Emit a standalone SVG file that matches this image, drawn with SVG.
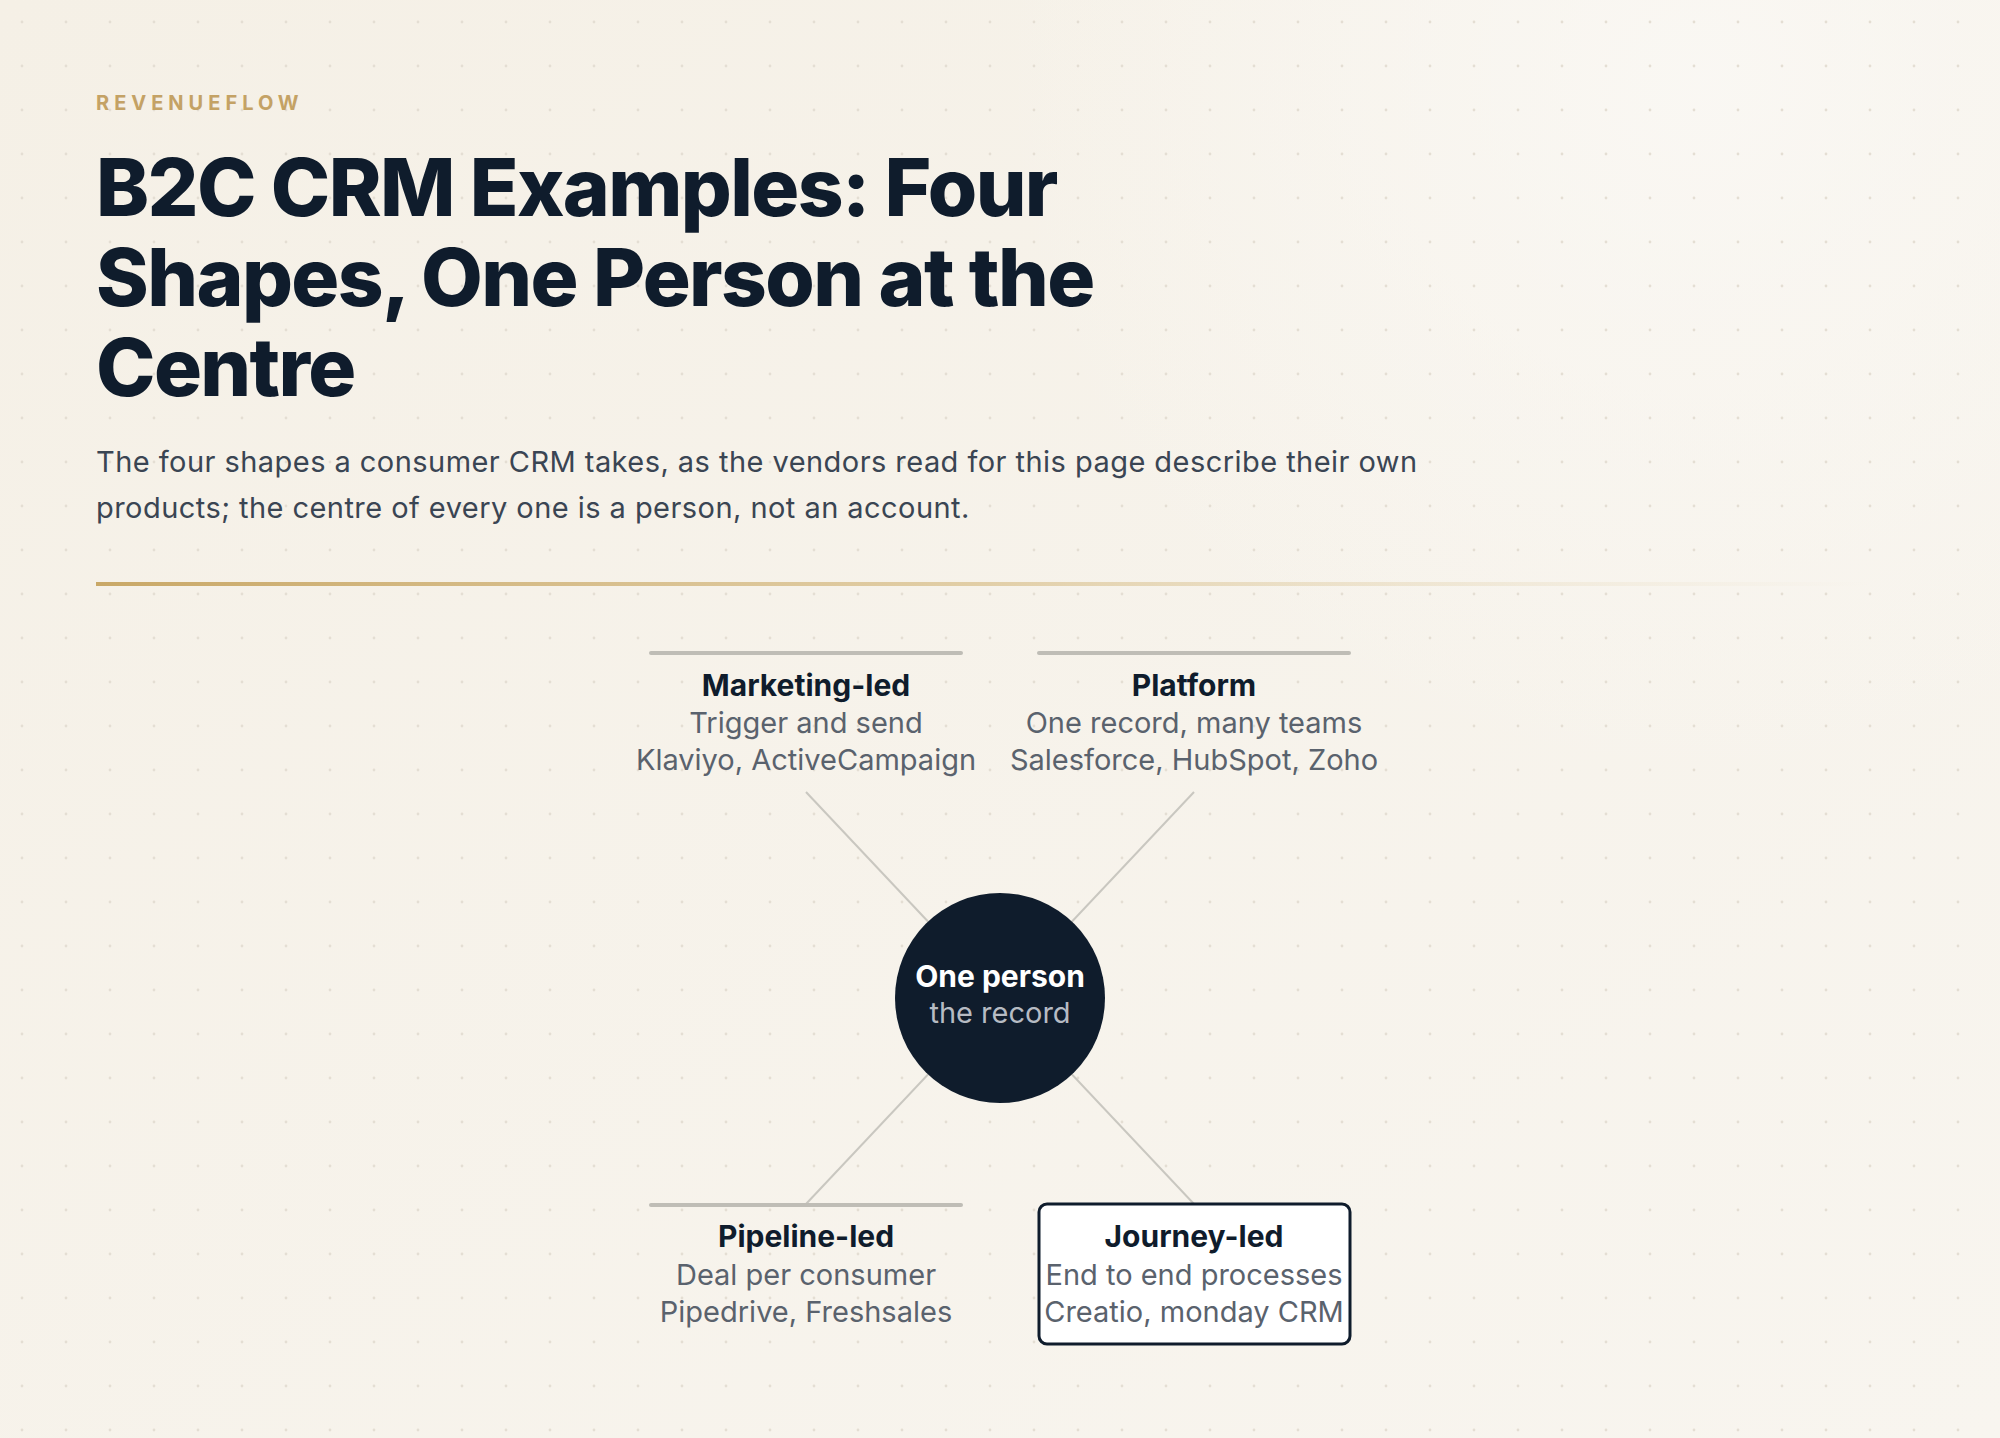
<svg xmlns="http://www.w3.org/2000/svg" width="2000" height="1438" viewBox="0 0 2000 1438">
<defs>
<linearGradient id="bg" x1="0" y1="0" x2="1" y2="1">
<stop offset="0" stop-color="#f5f0e6"/>
<stop offset="1" stop-color="#f8f5ef"/>
</linearGradient>
<radialGradient id="glow" cx="1700" cy="80" r="700" gradientUnits="userSpaceOnUse">
<stop offset="0" stop-color="#faf8f4" stop-opacity="0.9"/>
<stop offset="1" stop-color="#faf8f4" stop-opacity="0"/>
</radialGradient>
<pattern id="dots" x="0" y="0" width="44" height="44" patternUnits="userSpaceOnUse">
<circle cx="22" cy="22" r="1.4" fill="#e4ded3"/>
</pattern>
<linearGradient id="rule" x1="96" y1="0" x2="1870" y2="0" gradientUnits="userSpaceOnUse">
<stop offset="0" stop-color="#c9a867"/>
<stop offset="0.5" stop-color="#dcc596" stop-opacity="0.8"/>
<stop offset="1" stop-color="#e8dcc0" stop-opacity="0"/>
</linearGradient>
<style>
.eyebrow{font-family:Inter,"Liberation Sans",sans-serif;font-weight:700;font-size:20px;letter-spacing:5px;fill:#c4a265}
.title{font-family:Inter,"Liberation Sans",sans-serif;font-weight:800;font-size:80px;letter-spacing:-1.6px;fill:#0f1c2c}
.sub{font-family:Inter,"Liberation Sans",sans-serif;font-weight:400;font-size:29px;letter-spacing:0.45px;fill:#3a4553}
.nt{font-family:Inter,"Liberation Sans",sans-serif;font-weight:700;font-size:30px;fill:#0f1c2c;text-anchor:middle}
.nd{font-family:Inter,"Liberation Sans",sans-serif;font-weight:400;font-size:29px;fill:#5a626d;text-anchor:middle}
.bar{stroke:#bfbdb6;stroke-width:4;stroke-linecap:round}
.conn{stroke:#c9c7c0;stroke-width:2;fill:none}
.ct{font-family:Inter,"Liberation Sans",sans-serif;font-weight:700;font-size:30px;fill:#ffffff;text-anchor:middle}
.cs{font-family:Inter,"Liberation Sans",sans-serif;font-weight:400;font-size:29px;fill:#b6bbc3;text-anchor:middle}
</style>
</defs>
<rect width="2000" height="1438" fill="url(#bg)"/>
<rect width="2000" height="1438" fill="url(#glow)"/>
<rect width="2000" height="1438" fill="url(#dots)"/>

<g id="header">
<text class="eyebrow" x="96" y="110">REVENUEFLOW</text>
<text class="title" x="96" y="216">B2C CRM Examples: Four</text>
<text class="title" x="96" y="306">Shapes, One Person at the</text>
<text class="title" x="96" y="396">Centre</text>
<text class="sub" x="96" y="472">The four shapes a consumer CRM takes, as the vendors read for this page describe their own</text>
<text class="sub" x="96" y="518">products; the centre of every one is a person, not an account.</text>
<rect x="96" y="582" width="1810" height="4" fill="url(#rule)"/>
</g>

<g id="connectors">
<line class="conn" x1="806" y1="792" x2="1000" y2="998"/>
<line class="conn" x1="1194" y1="792" x2="1000" y2="998"/>
<line class="conn" x1="806" y1="1204" x2="1000" y2="998"/>
<line class="conn" x1="1194" y1="1204" x2="1000" y2="998"/>
</g>

<g id="node-marketing">
<line class="bar" x1="651" y1="653" x2="961" y2="653"/>
<text class="nt" x="806" y="696">Marketing-led</text>
<text class="nd" x="806" y="733">Trigger and send</text>
<text class="nd" x="806" y="770">Klaviyo, ActiveCampaign</text>
</g>

<g id="node-platform">
<line class="bar" x1="1039" y1="653" x2="1349" y2="653"/>
<text class="nt" x="1194" y="696">Platform</text>
<text class="nd" x="1194" y="733">One record, many teams</text>
<text class="nd" x="1194" y="770">Salesforce, HubSpot, Zoho</text>
</g>

<g id="node-pipeline">
<line class="bar" x1="651" y1="1205" x2="961" y2="1205"/>
<text class="nt" x="806" y="1247">Pipeline-led</text>
<text class="nd" x="806" y="1285">Deal per consumer</text>
<text class="nd" x="806" y="1322">Pipedrive, Freshsales</text>
</g>

<g id="node-journey">
<rect x="1039" y="1204" width="311" height="140" rx="8" fill="#ffffff" stroke="#0f1c2c" stroke-width="3"/>
<text class="nt" x="1194" y="1247">Journey-led</text>
<text class="nd" x="1194" y="1285">End to end processes</text>
<text class="nd" x="1194" y="1322">Creatio, monday CRM</text>
</g>

<g id="node-center">
<circle cx="1000" cy="998" r="105" fill="#0f1c2c"/>
<text class="ct" x="1000" y="987">One person</text>
<text class="cs" x="1000" y="1023">the record</text>
</g>
</svg>
